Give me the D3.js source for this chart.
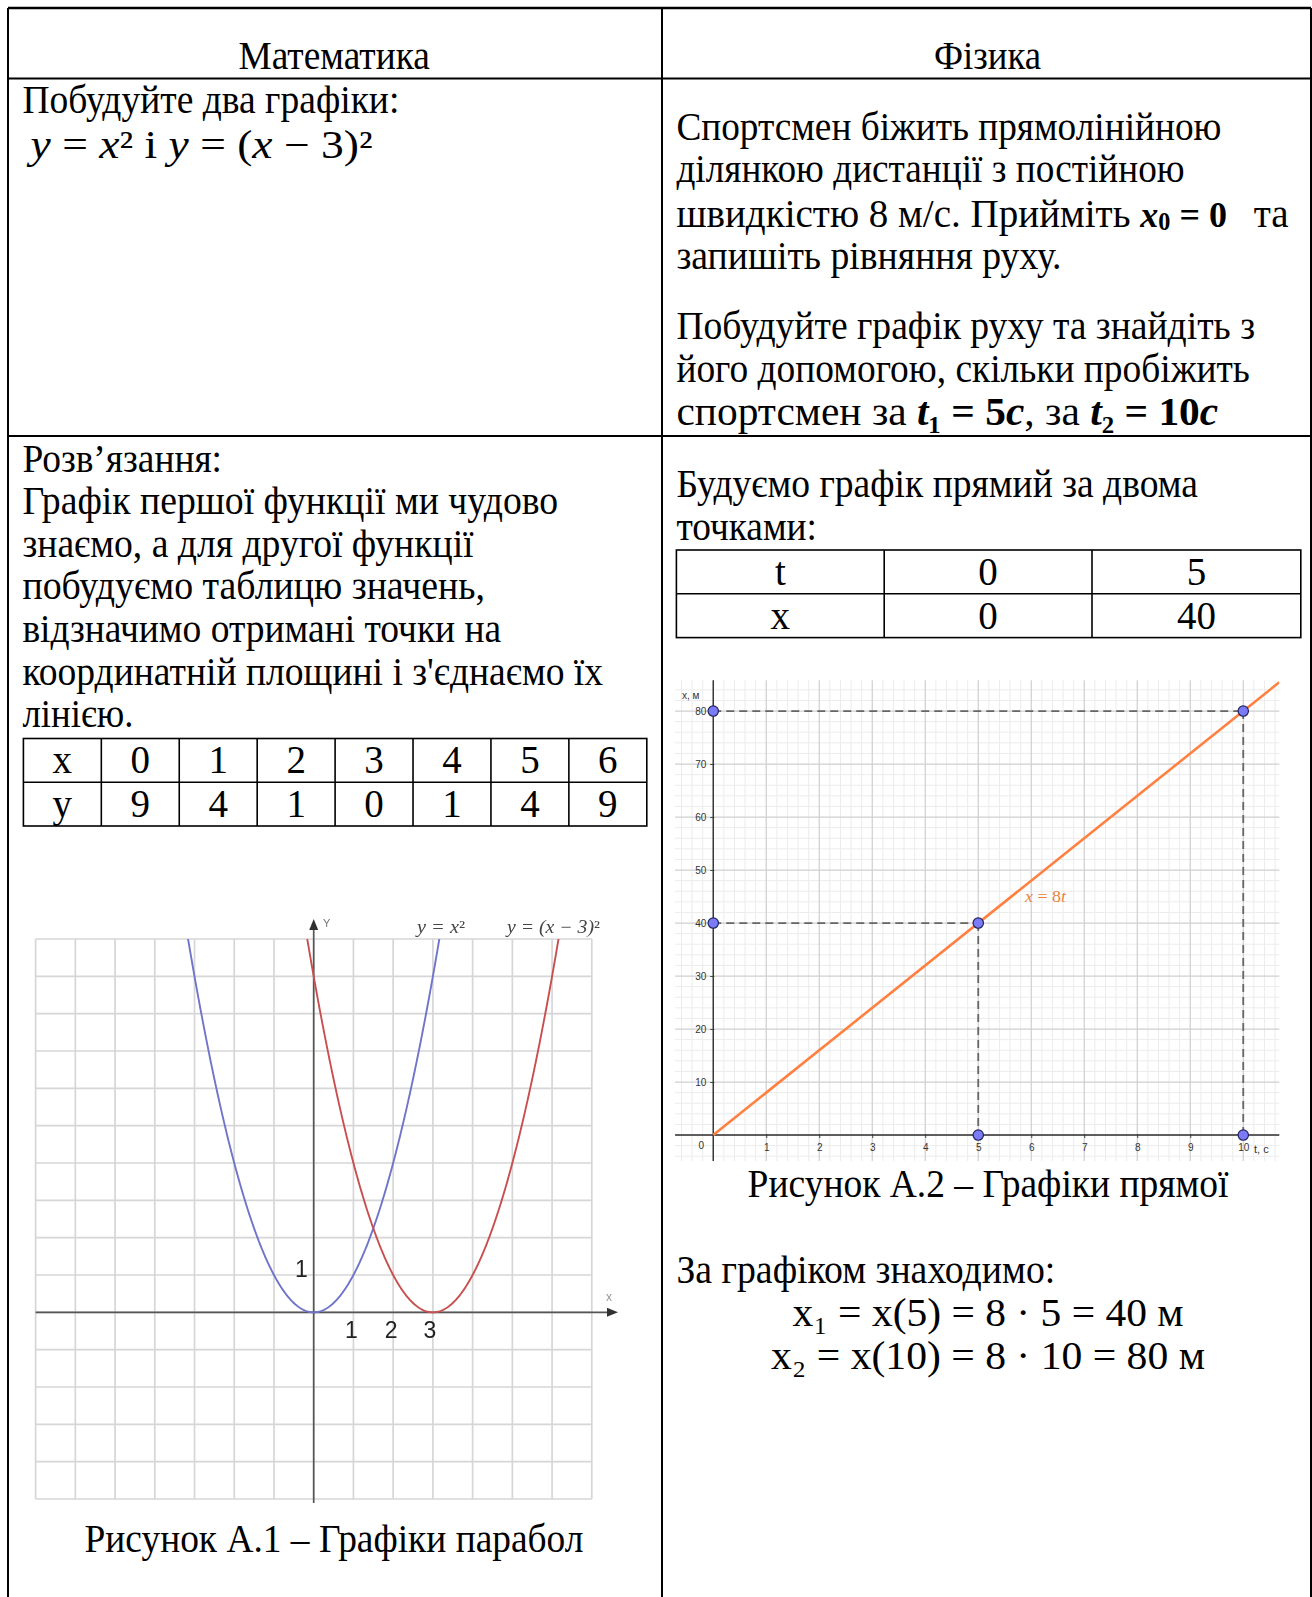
<!DOCTYPE html>
<html>
<head>
<meta charset="utf-8">
<script src="https://cdn.jsdelivr.net/npm/d3@7"></script>
<style>
  html, body { margin: 0; padding: 0; background: #fff; }
  svg { display: block; }
  text { white-space: pre; }
</style>
</head>
<body>
<svg id="page" width="1312" height="1597"></svg>
<script>
// ---- values ----
// table of values for y = (x - 3)^2
const tableXs = [0, 1, 2, 3, 4, 5, 6];
const tableYs = [9, 4, 1, 0, 1, 4, 9];
// the two parabolas y = (x - h)^2
const parabolaShifts = [0, 3];
const parabolaNames = ["y = x", "y = (x − 3)"];
const parabolaColors = ["#6f74c9", "#c8504f"];
const parabolaXLabels = ["1", "2", "3"];
const parabolaYLabels = ["1"];

// motion x = x0 + v t, two points used to build it
const motionT = [0, 5];
const motionX = [0, 40];
// distances
const readT = [5, 10];
const readX = [40, 80];
const timeTicks = [0, 1, 2, 3, 4, 5, 6, 7, 8, 9, 10];
const distTicks = [10, 20, 30, 40, 50, 60, 70, 80];

const svg = d3.select("#page");
const SERIF = "'Liberation Serif', 'Times New Roman', 'DejaVu Serif', serif";
const SANS = "'Liberation Sans', Arial, sans-serif";
const FS = 39;

// index digits written with their own Unicode forms
const SUP = { "0": "⁰", "1": "¹", "2": "²", "3": "³" };
const SUB = { "0": "₀", "1": "₁", "2": "₂", "3": "₃" };
const toScript = (s, map) => s.split("").map(c => map[c] || c).join("");

// ---- text helper: runs of plain / italic / bold text with indices ----
// p.low: a small index set a little below the baseline with its own tspan
// p.size: a run drawn at its own font size
function richLine(parent, x, y, parts, o = {}) {
  const size = o.size || FS;
  const t = parent.append("text")
    .attr("x", x).attr("y", y)
    .attr("font-family", o.family || SERIF)
    .attr("font-size", size)
    .attr("fill", o.fill || "#000");
  if (o.anchor) t.attr("text-anchor", o.anchor);
  let shift = 0;
  parts.forEach(p => {
    if (typeof p === "string") p = { t: p };
    const txt = p.sub ? toScript(p.t, SUB) : p.sup ? toScript(p.t, SUP) : p.t;
    const s = t.append("tspan").text(txt);
    if (p.i) s.attr("font-style", "italic");
    if (p.b) s.attr("font-weight", "bold");
    const target = p.low ? 3 : 0;
    if (target !== shift) s.attr("dy", target - shift);
    shift = target;
    if (p.low) s.attr("font-size", size * 0.62);
    else if (p.size) s.attr("font-size", p.size);
  });
  if (o.width) t.attr("textLength", o.width).attr("lengthAdjust", "spacingAndGlyphs");
  return t;
}

// ---- outer layout table ----
const frame = svg.append("g").attr("stroke", "#000").attr("stroke-width", 2);
const L = 8, R = 1311, T = 8, B = 1597, MID = 662;
frame.append("line").attr("x1", L).attr("x2", R).attr("y1", T).attr("y2", T).attr("stroke-width", 2.5);
frame.append("line").attr("x1", L).attr("x2", R).attr("y1", 78.5).attr("y2", 78.5);
frame.append("line").attr("x1", L).attr("x2", R).attr("y1", 436).attr("y2", 436);
frame.append("line").attr("x1", L).attr("x2", L).attr("y1", T).attr("y2", B);
frame.append("line").attr("x1", MID).attr("x2", MID).attr("y1", T).attr("y2", B);
frame.append("line").attr("x1", R).attr("x2", R).attr("y1", T).attr("y2", B);

// ---- headings ----
richLine(svg, 238.4, 69, ["Математика"], { width: 191.5 });
richLine(svg, 934, 69, ["Фізика"], { width: 107 });

// ---- left column text ----
richLine(svg, 22.4, 113, ["Побудуйте два графіки:"], { width: 377 });
richLine(svg, 30.6, 158, [
  { t: "y", i: 1 }, " = ", { t: "x", i: 1 }, { t: "2", sup: 1 }, " і ",
  { t: "y", i: 1 }, " = (", { t: "x", i: 1 }, " − 3)", { t: "2", sup: 1 }
], { width: 342 });

const leftLines = [
  ["Розв’язання:", 199.6],
  ["Графік першої функції ми чудово", 535.8],
  ["знаємо, а для другої функції", 451.2],
  ["побудуємо таблицю значень,", 462.5],
  ["відзначимо отримані точки на", 478.8],
  ["координатній площині і з'єднаємо їх", 580.6],
  ["лінією.", 111]
];
leftLines.forEach((d, i) => richLine(svg, 22.4, 471.5 + i * 42.6, [d[0]], { width: d[1] }));

// ---- generic grid table ----
function valueTable(colEdges, rowEdges, rows) {
  const g = svg.append("g");
  g.append("rect").attr("x", colEdges[0]).attr("y", rowEdges[0])
    .attr("width", colEdges[colEdges.length - 1] - colEdges[0])
    .attr("height", rowEdges[rowEdges.length - 1] - rowEdges[0])
    .attr("fill", "none").attr("stroke", "#000").attr("stroke-width", 1.6);
  colEdges.slice(1, -1).forEach(c => g.append("line")
    .attr("x1", c).attr("x2", c).attr("y1", rowEdges[0]).attr("y2", rowEdges[rowEdges.length - 1])
    .attr("stroke", "#000").attr("stroke-width", 1.6));
  rowEdges.slice(1, -1).forEach(r => g.append("line")
    .attr("x1", colEdges[0]).attr("x2", colEdges[colEdges.length - 1]).attr("y1", r).attr("y2", r)
    .attr("stroke", "#000").attr("stroke-width", 1.6));
  rows.forEach((row, ri) => row.forEach((v, ci) => {
    g.append("text")
      .attr("x", (colEdges[ci] + colEdges[ci + 1]) / 2)
      .attr("y", (rowEdges[ri] + rowEdges[ri + 1]) / 2 + 13)
      .attr("text-anchor", "middle")
      .attr("font-family", SERIF).attr("font-size", FS)
      .text(v);
  }));
}
// left value table
const leftCols = d3.range(9).map(i => 23.4 + i * (646.8 - 23.4) / 8);
valueTable(leftCols, [738.5, 782.3, 826],
  [["x", ...tableXs.map(String)], ["y", ...tableYs.map(String)]]);

// ---- parabola chart ----
const defs = svg.append("defs");
defs.append("filter").attr("id", "soft").attr("x", "-5%").attr("y", "-5%")
  .attr("width", "110%").attr("height", "110%")
  .append("feGaussianBlur").attr("stdDeviation", 0.55);
const pg = svg.append("g").attr("filter", "url(#soft)");

const px = d3.scaleLinear().domain([-7, 7]).range([35.6, 591.8]);
const py = d3.scaleLinear().domain([-5, 10]).range([1499, 939]);

defs.append("clipPath").attr("id", "pclip").append("rect")
  .attr("x", px(-7)).attr("y", py(10)).attr("width", px(7) - px(-7)).attr("height", py(-5) - py(10));

// grid
const gridP = pg.append("g").attr("stroke", "#d6d6d6").attr("stroke-width", 1.7);
d3.range(-7, 8).forEach(v => gridP.append("line")
  .attr("x1", px(v)).attr("x2", px(v)).attr("y1", py(10)).attr("y2", py(-5)));
d3.range(-5, 11).forEach(v => gridP.append("line")
  .attr("x1", px(-7)).attr("x2", px(7)).attr("y1", py(v)).attr("y2", py(v)));

// axes with arrow heads
pg.append("line").attr("x1", px(-7)).attr("x2", 612).attr("y1", py(0)).attr("y2", py(0))
  .attr("stroke", "#555").attr("stroke-width", 1.7);
pg.append("path").attr("d", `M618,${py(0)} L607,${py(0) - 4.5} L607,${py(0) + 4.5} Z`).attr("fill", "#333");
pg.append("line").attr("x1", px(0)).attr("x2", px(0)).attr("y1", 1503).attr("y2", 926)
  .attr("stroke", "#555").attr("stroke-width", 1.7);
pg.append("path").attr("d", `M${px(0)},919 L${px(0) - 4.5},930 L${px(0) + 4.5},930 Z`).attr("fill", "#333");
pg.append("text").attr("x", 323).attr("y", 927).attr("font-family", SANS).attr("font-size", 11)
  .attr("fill", "#777").text("Y");
pg.append("text").attr("x", 606).attr("y", 1301).attr("font-family", SANS).attr("font-size", 12)
  .attr("fill", "#999").text("x");

// curves
const curveLine = d3.line().x(d => px(d[0])).y(d => py(d[1]));
const cg = pg.append("g").attr("clip-path", "url(#pclip)");
parabolaShifts.forEach((h, k) => {
  const pts = d3.range(-7, 7.001, 0.02).map(x => [x, (x - h) * (x - h)]).filter(d => d[1] <= 10.6);
  cg.append("path").attr("d", curveLine(pts)).attr("fill", "none")
    .attr("stroke", parabolaColors[k]).attr("stroke-width", 1.9);
});

// curve names
[[417, 0, 48], [507, 1, 93]].forEach(([x, k, w]) => {
  richLine(pg, x, 933, [{ t: parabolaNames[k], i: 1 }, { t: "2", sup: 1 }],
    { size: 18, fill: "#444", width: w });
});

// axis numbers
parabolaXLabels.forEach((s, i) => pg.append("text")
  .attr("x", px(+s) - 2 + (i === 2 ? -1 : 0)).attr("y", 1338)
  .attr("text-anchor", "middle").attr("font-family", SANS).attr("font-size", 23)
  .attr("fill", "#222").text(s));
parabolaYLabels.forEach(s => pg.append("text")
  .attr("x", 301.5).attr("y", py(+s) + 2)
  .attr("text-anchor", "middle").attr("font-family", SANS).attr("font-size", 23)
  .attr("fill", "#222").text(s));

richLine(svg, 84.5, 1552, ["Рисунок А.1 – Графіки парабол"], { width: 499 });

// ---- right column text ----
richLine(svg, 676.4, 139.5, ["Спортсмен біжить прямолінійною"], { width: 545 });
richLine(svg, 676.4, 182.3, ["ділянкою дистанції з постійною"], { width: 508.2 });
richLine(svg, 676.4, 227, [
  "швидкістю 8 м/с. Прийміть ", { t: "x", i: 1, b: 1, size: 36 }, { t: "0", low: 1, b: 1 },
  { t: " = 0", b: 1, size: 36 }
], { width: 550.6 });
richLine(svg, 1288.5, 227, ["та"], { anchor: "end" });
richLine(svg, 676.4, 269, ["запишіть рівняння руху."], { width: 385 });
richLine(svg, 676.4, 339, ["Побудуйте графік руху та знайдіть з"], { width: 578.6 });
richLine(svg, 676.4, 382, ["його допомогою, скільки пробіжить"], { width: 573.5 });
richLine(svg, 676.4, 424.7, [
  "спортсмен за ", { t: "t", i: 1, b: 1 }, { t: "1", sub: 1, b: 1 }, { t: " = 5", b: 1 }, { t: "c", i: 1, b: 1 },
  ", за ", { t: "t", i: 1, b: 1 }, { t: "2", sub: 1, b: 1 }, { t: " = 10", b: 1 }, { t: "c", i: 1, b: 1 }
], { width: 541.8 });
richLine(svg, 676.4, 497, ["Будуємо графік прямий за двома"], { width: 521.5 });
richLine(svg, 676.4, 540, ["точками:"], { width: 140.6 });

// motion points table
valueTable([676.4, 884.2, 1092, 1300.8], [550, 593.8, 637.6],
  [["t", ...motionT.map(String)], ["x", ...motionX.map(String)]]);

// ---- motion chart x(t) ----
const speed = (motionX[1] - motionX[0]) / (motionT[1] - motionT[0]);
const tx = d3.scaleLinear().domain([-0.72, 10.68]).range([675.1, 1279.3]);
const xy = d3.scaleLinear().domain([-4.9, 85.8]).range([1161, 680.3]);
const mg = svg.append("g");
defs.append("clipPath").attr("id", "mclip").append("rect")
  .attr("x", tx.range()[0]).attr("y", xy.range()[1])
  .attr("width", tx.range()[1] - tx.range()[0]).attr("height", xy.range()[0] - xy.range()[1]);

const minorT = d3.range(-0.6, 10.61, 0.2).map(v => +v.toFixed(1)).filter(v => Math.abs(v - Math.round(v)) > 0.01);
const minorX = d3.range(-4, 85, 2).filter(v => v % 10 !== 0);
const majorT = d3.range(0, 11);
const majorX = d3.range(0, 90, 10);
const gridM = mg.append("g");
minorT.forEach(v => gridM.append("line").attr("x1", tx(v)).attr("x2", tx(v))
  .attr("y1", xy.range()[1]).attr("y2", xy.range()[0]).attr("stroke", "#ececec").attr("stroke-width", 1));
minorX.forEach(v => gridM.append("line").attr("y1", xy(v)).attr("y2", xy(v))
  .attr("x1", tx.range()[0]).attr("x2", tx.range()[1]).attr("stroke", "#ececec").attr("stroke-width", 1));
majorT.forEach(v => gridM.append("line").attr("x1", tx(v)).attr("x2", tx(v))
  .attr("y1", xy.range()[1]).attr("y2", xy.range()[0]).attr("stroke", "#cfcfcf").attr("stroke-width", 1.2));
majorX.forEach(v => gridM.append("line").attr("y1", xy(v)).attr("y2", xy(v))
  .attr("x1", tx.range()[0]).attr("x2", tx.range()[1]).attr("stroke", "#cfcfcf").attr("stroke-width", 1.2));

// axes
const axT = d3.axisBottom(tx).tickValues(timeTicks.slice(1)).tickSize(4).tickPadding(5).tickFormat(d3.format("d"));
const axX = d3.axisLeft(xy).tickValues(distTicks).tickSize(4).tickPadding(3).tickFormat(d3.format("d"));
const gT = mg.append("g").attr("transform", `translate(0,${xy(0)})`).call(axT);
const gX = mg.append("g").attr("transform", `translate(${tx(0)},0)`).call(axX);
[gT, gX].forEach(g => {
  g.select(".domain").remove();
  g.selectAll(".tick line").attr("stroke", "#444");
  g.selectAll(".tick text").attr("font-family", SANS).attr("font-size", 10).attr("fill", "#333");
});
gT.selectAll(".tick line").attr("y1", -1).attr("y2", 3);
gX.selectAll(".tick line").attr("x1", 1).attr("x2", -3);
mg.append("line").attr("x1", tx.range()[0]).attr("x2", tx.range()[1]).attr("y1", xy(0)).attr("y2", xy(0))
  .attr("stroke", "#333").attr("stroke-width", 1.4);
mg.append("line").attr("x1", tx(0)).attr("x2", tx(0)).attr("y1", xy.range()[1]).attr("y2", xy.range()[0])
  .attr("stroke", "#333").attr("stroke-width", 1.4);
mg.append("text").attr("x", tx(0) - 12).attr("y", xy(0) + 14).attr("text-anchor", "middle")
  .attr("font-family", SANS).attr("font-size", 10).attr("fill", "#333").text(timeTicks[0]);
mg.append("text").attr("x", 682).attr("y", 699).attr("font-family", SANS).attr("font-size", 10)
  .attr("fill", "#333").text("x, м");
mg.append("text").attr("x", 1254).attr("y", 1153).attr("font-family", SANS).attr("font-size", 11)
  .attr("fill", "#333").text("t, c");

// projection dashes from each read-off point to the axes
const dash = mg.append("g").attr("stroke", "#666").attr("stroke-width", 1.8).attr("stroke-dasharray", "8,5");
readT.forEach((t, i) => {
  dash.append("line").attr("x1", tx(0)).attr("x2", tx(t)).attr("y1", xy(readX[i])).attr("y2", xy(readX[i]));
  dash.append("line").attr("x1", tx(t)).attr("x2", tx(t)).attr("y1", xy(readX[i])).attr("y2", xy(0));
});

// motion line x = 8t
const tEnd = tx.domain()[1];
mg.append("g").attr("clip-path", "url(#mclip)").append("line")
  .attr("x1", tx(motionT[0])).attr("y1", xy(motionX[0]))
  .attr("x2", tx(tEnd)).attr("y2", xy(motionX[0] + speed * tEnd))
  .attr("stroke", "#ff8040").attr("stroke-width", 2.6);
richLine(mg, 1025, 902, [{ t: "x", i: 1 }, " = ", String(speed), { t: "t", i: 1 }],
  { size: 17, fill: "#e8843c", width: 41 });

// points on axes and on the line
const dots = [];
readT.forEach((t, i) => {
  dots.push([0, readX[i]], [t, readX[i]], [t, 0]);
});
mg.selectAll("circle.pt").data(dots).join("circle").attr("class", "pt")
  .attr("cx", d => tx(d[0])).attr("cy", d => xy(d[1])).attr("r", 5.2)
  .attr("fill", "#7b7bf7").attr("stroke", "#22225a").attr("stroke-width", 1.2);

richLine(svg, 747.6, 1197, ["Рисунок А.2 – Графіки прямої"], { width: 480.8 });
richLine(svg, 676.4, 1283, ["За графіком знаходимо:"], { width: 378.9 });
richLine(svg, 792.5, 1326, [
  "x", { t: "1", sub: 1 }, ` = x(${readT[0]}) = ${speed} · ${readT[0]} = ${readX[0]} м`
], { width: 391.1 });
richLine(svg, 771, 1369, [
  "x", { t: "2", sub: 1 }, ` = x(${readT[1]}) = ${speed} · ${readT[1]} = ${readX[1]} м`
], { width: 434 });
</script>
</body>
</html>
